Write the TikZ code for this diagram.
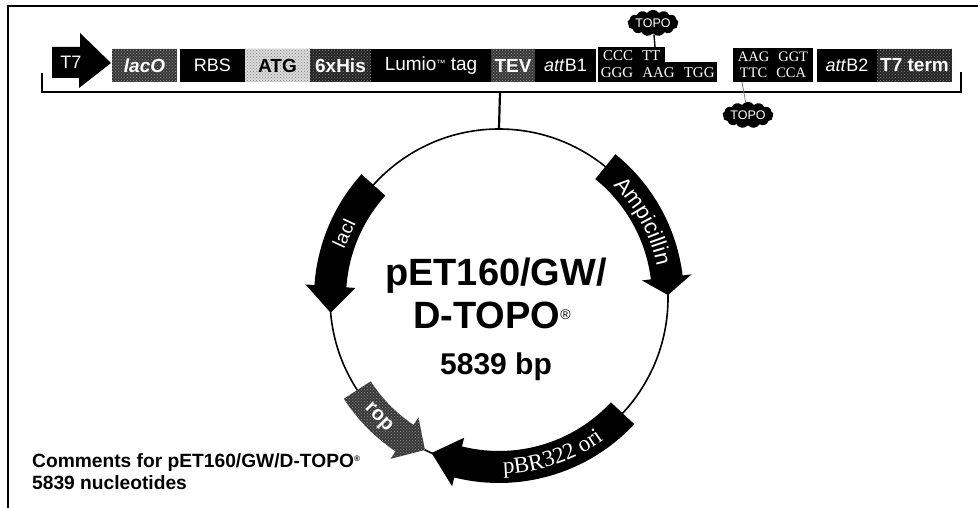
\documentclass[tikz,border=0pt]{standalone}
\usepackage{fontspec}
\setmainfont{Liberation Sans}
\newfontfamily\dnafont{Liberation Serif}
\usetikzlibrary{shapes.symbols,decorations.text,patterns}
\newcommand\fsz[1]{\fontsize{#1}{#1}\selectfont}
\definecolor{speckA}{gray}{0.22}
\definecolor{speckB}{gray}{0.14}
\definecolor{speckL}{gray}{0.86}
\newcommand\genearrow[4]{%
 \fill[#4] plot[domain=#1:#2,samples=30] ({499+185*cos(\x)},{298+185*sin(\x)})
  -- ({499+194*cos(#2)},{298+194*sin(#2)})
  -- ({499+169*cos(#3)},{298+169*sin(#3)})
  -- ({499+144*cos(#2)},{298+144*sin(#2)})
  -- ({499+153*cos(#2)},{298+153*sin(#2)})
  -- plot[domain=#2:#1,samples=30] ({499+153*cos(\x)},{298+153*sin(\x)}) -- cycle;}
\tikzset{
 seg/.style={rectangle,inner sep=0pt,minimum height=33pt,text=white,font=\fsz{18}},
 segbold/.style={seg,font=\fsz{19}\bfseries},
 speckdark/.style={fill=speckA,postaction={pattern=crosshatch dots,pattern color=gray!85!white}},
 speckdeep/.style={fill=speckB,postaction={pattern=crosshatch dots,pattern color=gray}},
 specklight/.style={fill=speckL,postaction={pattern=crosshatch dots,pattern color=gray}},
 dna/.style={inner sep=0pt,text=white,font=\dnafont\fsz{15},fill=black},
 topo/.style={cloud,cloud puffs=13,cloud puff arc=110,aspect=2.4,fill=black,text=white,inner sep=0pt,
   minimum width=42pt,minimum height=17pt,font=\fsz{12.5}},
 genelabel/.style={text=white,inner sep=0pt},
 title/.style={inner sep=0pt,font=\bfseries},
 bracketline/.style={line width=2pt,line cap=rect},
 frameline/.style={line width=2pt}
}
\begin{document}
\begin{tikzpicture}[x=1pt,y=-1pt]
\useasboundingbox (0,0) rectangle (978,508);
% frame
\coordinate (fTL) at (8,6);
\coordinate (fTR) at (978,6);
\coordinate (fBL) at (8,508);
\draw[frameline] (fBL) -- (fTL) -- (fTR);
% plasmid
\node[circle,draw,line width=1.6pt,inner sep=0pt,minimum size=338pt] (plasmid) at (499,298) {};
\genearrow{-51}{-7}{-1}{black}
\genearrow{222}{184}{175}{black}
\genearrow{147}{124}{116}{speckdark}
\genearrow{43}{104}{113.5}{black}
% bracket
\coordinate (bL) at (42,74);
\coordinate (bLc) at (42,92);
\coordinate (bRc) at (961,92);
\coordinate (bR) at (961,73);
\coordinate (bS) at (500,92);
\draw[bracketline] (bL) -- (bLc) -- (bRc) -- (bR);
\draw[line width=2.2pt] (bS) -- (plasmid.north);
% T7
\fill[black] (52,47) -- (80,47) -- (80,33) -- (111,63) -- (79,88) -- (79,78) -- (52,78) -- cycle;
\node[inner sep=0pt,text=white,font=\fsz{18}] (t7) at (71,62) {T7};
% segments
\node[segbold,speckdark,minimum width=65pt,font=\fsz{19}\bfseries\itshape] (laco) at (144.5,65.5) {lacO};
\node[seg,fill=black,minimum width=65pt] (rbs) at (212.5,65.5) {RBS};
\node[segbold,specklight,text=black,minimum width=65pt] (atg) at (277.5,65.5) {ATG};
\node[segbold,speckdeep,minimum width=61pt] (his) at (340.5,65.5) {6xHis};
\node[seg,fill=black,minimum width=120pt,font=\fsz{19}] (lumio) at (431,65.5) {Lumio\raisebox{4pt}{\fsz{9}™} tag};
\node[segbold,speckdark,minimum width=44pt] (tev) at (513,65.5) {TEV};
\node[seg,fill=black,minimum width=61pt] (attb1) at (565.5,65.5) {\textit{att}B1};
\node[dna,anchor=north west,minimum width=67pt,minimum height=16pt] (ccc) at (598,47) {CCC\hspace{9pt}TT};
\node[dna,anchor=north west,minimum width=119pt,minimum height=20pt] (ggg) at (598,62) {GGG\hspace{9pt}AAG\hspace{9pt}TGG};
\node[dna,align=center,minimum width=80pt,minimum height=34pt,font=\dnafont\fsz{14.5}] (aag) at (773,65) {AAG\hspace{9pt}GGT\\[1pt]TTC\hspace{9pt}CCA};
\node[seg,fill=black,minimum width=60pt] (attb2) at (847,65.5) {\textit{att}B2};
\node[segbold,speckdeep,minimum width=75pt] (t7term) at (914.5,65.5) {T7 term};
% TOPO
\node[topo] (topoA) at (653,23) {TOPO};
\node[topo] (topoB) at (748,115) {TOPO};
\coordinate (cA) at (655,47);
\coordinate (cB) at (742,82);
\draw[line width=1.4pt] (topoA) -- (cA);
\draw[line width=0.8pt,gray] (cB) -- (topoB);
% gene labels
\path[decorate,decoration={text along path,text align=center,text={|\fsz{22}\color{white}|Ampicillin}}]
  plot[domain=-48:-8,samples=40] ({499+161*cos(\x)},{298+161*sin(\x)});
\path[decorate,decoration={text along path,text align=center,text={|\dnafont\fsz{23}\color{white}|pBR322 ori}}]
  plot[domain=95:47,samples=40] ({499+176*cos(\x)},{298+176*sin(\x)});
\node[genelabel,rotate=65,font=\fsz{19}] (laci) at (344,233) {lacI};
\node[genelabel,rotate=-45,font=\fsz{20}\bfseries] (rop) at (378,418) {rop};
% titles
\node[title,font=\fsz{38}\bfseries] (name1) at (496,276) {pET160/GW/};
\node[title,font=\fsz{38}\bfseries,anchor=base west] (name2) at (413,328) {D-TOPO\raisebox{9pt}{\fsz{14}\mdseries ®}};
\node[title,font=\fsz{30}\bfseries,anchor=base] (size) at (496,374) {5839 bp};
\node[title,font=\fsz{19.2}\bfseries,anchor=base west] (comm1) at (32,467) {Comments for pET160/GW/D-TOPO\raisebox{6pt}{\fsz{8}®}};
\node[title,font=\fsz{19.2}\bfseries,anchor=base west] (comm2) at (32,489) {5839 nucleotides};
\end{tikzpicture}
\end{document}
